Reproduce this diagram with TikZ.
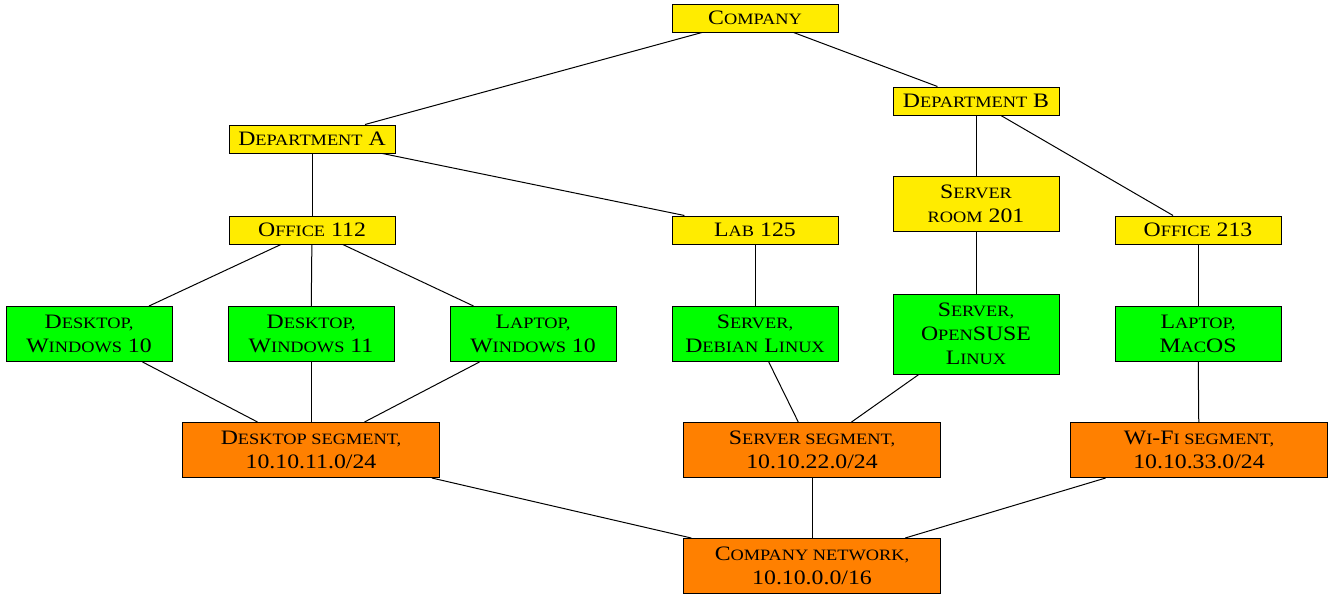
\documentclass[tikz,border=0pt]{standalone}
\usepackage{fontspec}
\setmainfont{Liberation Serif}[FakeStretch=1.16]
\definecolor{nyellow}{RGB}{255,236,0}
\definecolor{ngreen}{RGB}{0,255,0}
\definecolor{norange}{RGB}{255,128,0}
\newcommand\sm[1]{{\fontsize{15.8pt}{24pt}\selectfont #1}}
\begin{document}
\begin{tikzpicture}[x=1pt,y=-1pt,
  box/.style={draw, line width=1pt, align=center, inner xsep=3pt, inner ysep=2pt,
    minimum width=166pt, font=\fontsize{20.5pt}{24pt}\selectfont},
  one/.style={minimum height=28pt},
  two/.style={minimum height=55pt},
  three/.style={minimum height=80pt},
  org/.style={box, fill=nyellow},
  host/.style={box, fill=ngreen},
  net/.style={box, fill=norange, minimum width=257pt, two},
  link/.style={line width=1pt}]
\useasboundingbox (0,0) rectangle (1340,597);
% organisation
\node[org, one] (company) at (755,18) {C\sm{OMPANY}};
\node[org, one] (depta) at (312,139) {D\sm{EPARTMENT} A};
\node[org, one] (deptb) at (976,101) {D\sm{EPARTMENT} B};
\node[org, one] (off112) at (312,230) {O\sm{FFICE} 112};
\node[org, one] (lab125) at (755,230) {L\sm{AB} 125};
\node[org, two] (room201) at (976,204) {S\sm{ERVER}\\\sm{ROOM} 201};
\node[org, one] (off213) at (1198,230) {O\sm{FFICE} 213};
% hosts
\node[host, two] (dw10) at (89,334) {D\sm{ESKTOP,}\\W\sm{INDOWS} 10};
\node[host, two] (dw11) at (311,334) {D\sm{ESKTOP,}\\W\sm{INDOWS} 11};
\node[host, two] (lw10) at (533,334) {L\sm{APTOP,}\\W\sm{INDOWS} 10};
\node[host, two] (sdeb) at (755,334) {S\sm{ERVER,}\\D\sm{EBIAN} L\sm{INUX}};
\node[host, three] (ssuse) at (976,334) {S\sm{ERVER,}\\O\sm{PEN}SUSE\\L\sm{INUX}};
\node[host, two] (lmac) at (1198,334) {L\sm{APTOP,}\\M\sm{AC}OS};
% networks
\node[net] (dseg) at (311,450) {D\sm{ESKTOP SEGMENT,}\\10.10.11.0/24};
\node[net] (sseg) at (812,450) {S\sm{ERVER SEGMENT,}\\10.10.22.0/24};
\node[net] (wseg) at (1199,450) {W\sm{I}-F\sm{I SEGMENT,}\\10.10.33.0/24};
\node[net] (cnet) at (812,566) {C\sm{OMPANY NETWORK,}\\10.10.0.0/16};
% links
\draw[link] (company) -- (depta);
\draw[link] (company) -- (deptb);
\draw[link] (depta) -- (off112);
\draw[link] (depta) -- (lab125);
\draw[link] (deptb) -- (room201);
\draw[link] (deptb) -- (off213);
\draw[link] (off112) -- (dw10);
\draw[link] (off112) -- (dw11);
\draw[link] (off112) -- (lw10);
\draw[link] (lab125) -- (sdeb);
\draw[link] (room201) -- (ssuse);
\draw[link] (off213) -- (lmac);
\draw[link] (dw10) -- (dseg);
\draw[link] (dw11) -- (dseg);
\draw[link] (lw10) -- (dseg);
\draw[link] (sdeb) -- (sseg);
\draw[link] (ssuse) -- (sseg);
\draw[link] (lmac) -- (wseg);
\draw[link] (dseg) -- (cnet);
\draw[link] (sseg) -- (cnet);
\draw[link] (wseg) -- (cnet);
\end{tikzpicture}
\end{document}
